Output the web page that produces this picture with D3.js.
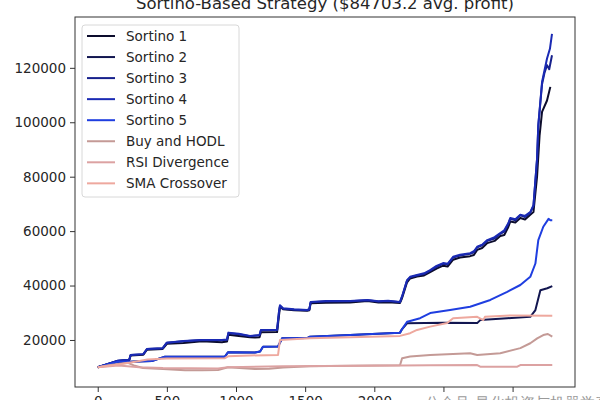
<!DOCTYPE html>
<html>
<head>
<meta charset="utf-8">
<script src="https://cdn.jsdelivr.net/npm/d3@7"></script>
<style>
  body { margin: 0; background: #fff; }
  text { font-family: "DejaVu Sans", sans-serif; fill: #262626; }
</style>
</head>
<body>
<div id="chart-area"></div>
<script>
// values: [step, portfolio value]
const sortino1 = [[0,10000],[146,12300],[228,12600],[238,14300],[330,14600],[356,16400],[470,16700],[500,18600],[620,18900],[754,19500],[898,19200],[935,19400],[945,21900],[1020,21500],[1101,21000],[1137,20900],[1170,21000],[1180,22800],[1297,22900],[1318,32200],[1340,31300],[1420,30900],[1514,30700],[1530,30900],[1540,33500],[1650,33700],[1825,33800],[1950,34300],[2030,33800],[2100,33900],[2186,33600],[2201,35400],[2237,41200],[2259,42600],[2309,43300],[2360,43700],[2404,44900],[2450,46200],[2498,47300],[2530,47000],[2570,49500],[2620,50300],[2693,50800],[2720,51200],[2744,53100],[2780,53800],[2817,55600],[2870,56400],[2911,58200],[2940,58600],[2969,61500],[2983,63500],[3020,63200],[3056,64800],[3090,64300],[3128,66000],[3151,67000],[3177,80000],[3195,95000],[3213,103800],[3249,108000],[3273,113000]];
const sortino2 = [[0,10000],[146,12000],[233,12040],[392,12300],[486,13870],[920,13870],[942,15500],[1137,15400],[1174,15800],[1195,17540],[1304,17600],[1333,20600],[1514,20700],[1535,21200],[1825,21800],[2186,22700],[2201,24000],[2237,26100],[2500,26300],[2744,26200],[2766,27300],[2961,28000],[3128,28500],[3165,31000],[3201,38300],[3251,39000],[3287,39800]];
const sortino3 = [[0,10000],[146,12400],[228,12700],[238,14500],[330,14800],[356,16700],[470,17000],[500,19000],[620,19500],[754,20000],[898,19900],[935,20100],[945,22500],[1020,22100],[1101,21400],[1137,21600],[1170,21700],[1180,23600],[1297,23700],[1310,30000],[1318,32500],[1340,31500],[1420,31100],[1514,30900],[1530,31200],[1540,33900],[1650,34100],[1825,34200],[1950,34600],[2030,34100],[2100,34300],[2186,33900],[2201,36000],[2237,41800],[2259,43000],[2309,43700],[2360,44200],[2404,45500],[2450,46900],[2498,48000],[2530,47800],[2570,50300],[2620,51000],[2693,51700],[2720,52200],[2744,54000],[2780,54800],[2817,56400],[2870,57300],[2911,59000],[2940,59800],[2969,62600],[2983,64500],[3020,64000],[3056,65800],[3090,65200],[3128,66800],[3151,69300],[3177,86500],[3186,98800],[3213,114000],[3230,118000],[3249,121000],[3265,119500],[3285,124600]];
const sortino4 = [[0,10000],[146,12400],[228,12700],[238,14500],[330,14800],[356,16700],[470,17000],[500,19000],[620,19600],[754,20000],[898,20000],[935,20200],[945,22700],[1020,22300],[1101,21500],[1137,21600],[1170,21800],[1180,23700],[1297,23700],[1310,30000],[1318,32800],[1340,31700],[1420,31300],[1514,31000],[1530,31300],[1540,34000],[1650,34300],[1825,34300],[1950,34700],[2030,34200],[2100,34400],[2186,34000],[2201,36000],[2237,42000],[2259,43200],[2309,43850],[2360,44500],[2404,45700],[2450,47200],[2498,48250],[2530,48000],[2570,50570],[2620,51300],[2693,51900],[2720,52600],[2744,54240],[2780,55000],[2817,56700],[2870,57800],[2911,59270],[2940,60300],[2969,62900],[2983,64800],[3020,64400],[3056,66000],[3090,65600],[3128,67000],[3151,69500],[3177,86700],[3186,99000],[3213,114800],[3249,123400],[3270,127000],[3285,132500]];
const sortino5 = [[0,10000],[146,12000],[233,12040],[392,12300],[486,13870],[920,13870],[942,15500],[1137,15400],[1174,15800],[1195,17540],[1304,17600],[1333,20600],[1514,20700],[1535,21200],[1825,21800],[2186,22700],[2201,24000],[2237,26700],[2259,27000],[2331,28000],[2404,29900],[2548,31000],[2693,32200],[2839,34700],[2961,37700],[3056,40200],[3128,43200],[3165,48100],[3186,56700],[3222,61600],[3260,64500],[3273,64000],[3287,64000]];
const buyHodl = [[0,10000],[80,10700],[219,11600],[269,10500],[327,9700],[472,9300],[631,8900],[754,8900],[870,9000],[942,9980],[1137,9360],[1240,9400],[1340,9900],[1535,10300],[1825,10500],[2186,10700],[2201,13300],[2259,13900],[2404,14500],[2693,15100],[2744,14500],[2911,15100],[3056,17000],[3128,18800],[3178,20600],[3222,21800],[3255,22200],[3287,21200]];
const rsiDivergence = [[0,10000],[150,10600],[300,10000],[472,9700],[870,9500],[942,10000],[1340,10300],[2186,10600],[2404,10700],[2744,10800],[2766,10200],[3034,10200],[3056,10800],[3287,10800]];
const smaCrossover = [[0,10000],[150,11000],[270,12000],[360,12800],[500,13200],[920,13300],[942,14000],[1101,14300],[1304,14500],[1318,20000],[1535,20600],[1825,21000],[2186,21500],[2259,22500],[2309,23700],[2404,24900],[2527,26200],[2570,28000],[2744,28500],[2788,27300],[2800,28500],[2983,29000],[3287,28900]];

const names = ["Sortino 1","Sortino 2","Sortino 3","Sortino 4","Sortino 5","Buy and HODL","RSI Divergence","SMA Crossover"];
const seriesList = [sortino1, sortino2, sortino3, sortino4, sortino5, buyHodl, rsiDivergence, smaCrossover];
const colours = ["#0c0c2c","#121650","#16208c","#1a2ab4","#1f3ee0","#c49a96","#dca2a2","#eea89e"];
const xTicks = [0,500,1000,1500,2000,2500,3000];
const yTicks = [20000,40000,60000,80000,100000,120000];
const title = "Sortino-Based Strategy ($84703.2 avg. profit)";
const watermark = "公众号·量化投资与机器学习";

const margin = {top:17,right:25,bottom:13, left:75},
  width = 600 - margin.left - margin.right,
  height = 400 - margin.top - margin.bottom;

const svg = d3.select("#chart-area")
  .append("svg")
  .attr("width", 600)
  .attr("height", 400);

const g = svg.append("g")
  .attr("transform", "translate("+ margin.left +","+ margin.top +")");

// matplotlib-like 5% autoscale margins
const allX = seriesList.flat().map(d => d[0]);
const allY = seriesList.flat().map(d => d[1]);
const xExt = d3.extent(allX), yExt = d3.extent(allY);
const xPad = (xExt[1]-xExt[0])*0.05, yPad = (yExt[1]-yExt[0])*0.05;

const x = d3.scaleLinear()
  .domain([xExt[0]-xPad, xExt[1]+xPad])
  .range([0, width]);
const y = d3.scaleLinear()
  .domain([yExt[0]-yPad, yExt[1]+yPad])
  .range([height, 0]);

const line = d3.line().x(d => x(d[0])).y(d => y(d[1]));

seriesList.forEach((s, i) => {
  g.append("path")
    .attr("fill", "none")
    .attr("stroke", colours[i])
    .attr("stroke-width", 2)
    .attr("stroke-linejoin", "round")
    .attr("d", line(s));
});

// Axes (labels past 2000 sit under the watermark)
const x_axis = d3.axisBottom(x).tickValues(xTicks).tickSize(5).tickPadding(4)
  .tickFormat(d => d > 2000 ? "" : d);
g.append("g")
  .attr("class", "x_as")
  .attr("transform", "translate(0,"+height+")")
  .call(x_axis);

const y_axis = d3.axisLeft(y).tickValues(yTicks).tickSize(5).tickPadding(4).tickFormat(d3.format("d"));
g.append("g")
  .attr("class", "y_as")
  .call(y_axis);

g.selectAll(".x_as, .y_as").selectAll("path.domain").remove();
g.selectAll(".tick line").attr("stroke", "#333");
g.selectAll(".tick text").attr("font-size", "13.5px").attr("fill", "#262626")
  .attr("font-family", "DejaVu Sans");

// frame
g.append("rect")
  .attr("width", width)
  .attr("height", height)
  .attr("fill", "none")
  .attr("stroke", "#333")
  .attr("stroke-width", 1);

// Title
svg.append("text")
  .attr("x", margin.left + width/2)
  .attr("y", 9)
  .attr("text-anchor", "middle")
  .attr("font-size", "16.5px")
  .text(title);

// Legend
const leg = g.append("g").attr("transform", "translate(7,8)");
leg.append("rect")
  .attr("width", 157)
  .attr("height", 172)
  .attr("rx", 3)
  .attr("fill", "#fff")
  .attr("fill-opacity", 0.8)
  .attr("stroke", "#d8d8d8");
names.forEach((n, i) => {
  const ly = 11 + i*21.05;
  leg.append("line")
    .attr("x1", 5).attr("x2", 33)
    .attr("y1", ly).attr("y2", ly)
    .attr("stroke", colours[i])
    .attr("stroke-width", 2);
  leg.append("text")
    .attr("x", 44)
    .attr("y", ly + 5)
    .attr("font-size", "13.5px")
    .text(n);
});

// watermark at the bottom edge
svg.append("rect")
  .attr("x", 418).attr("y", 393)
  .attr("width", 182).attr("height", 7)
  .attr("fill", "#fff")
  .attr("fill-opacity", 0.9);
svg.append("text")
  .attr("x", 425)
  .attr("y", 408)
  .attr("font-family", "Noto Sans CJK SC")
  .attr("font-size", "15px")
  .style("fill", "#9a9a9a")
  .text(watermark);
</script>
</body>
</html>
